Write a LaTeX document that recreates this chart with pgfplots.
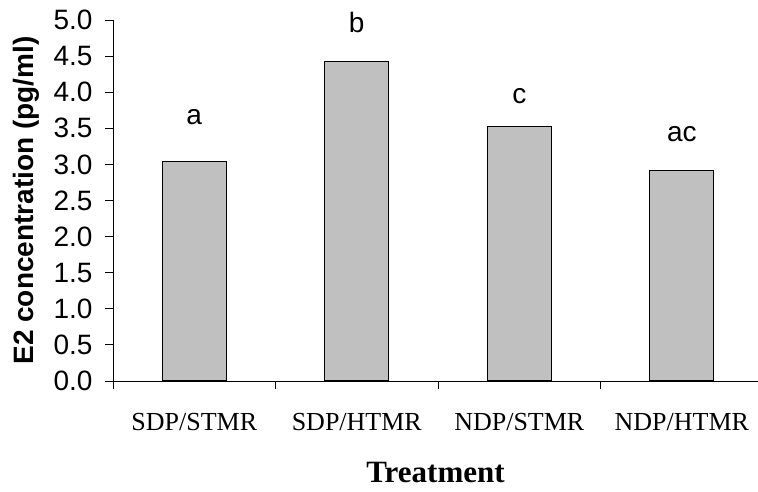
\documentclass[border=0pt]{standalone}
\usepackage{fontspec}
\setmainfont{Liberation Serif}
\newfontfamily\arial{Liberation Sans}
\usepackage{pgfplots}
\pgfplotsset{compat=1.18}
\begin{document}
\begin{tikzpicture}
\useasboundingbox (0,0) rectangle (758bp,492bp);
\begin{axis}[
  at={(113bp,111bp)}, anchor=south west,
  scale only axis,
  width=645bp, height=361bp,
  xmin=-0.5, xmax=3.469,
  ymin=0, ymax=5,
  axis x line=bottom, axis y line=left,
  axis line style={-, line width=0.8bp},
  ytick={0,0.5,...,5},
  /pgf/number format/fixed,
  /pgf/number format/fixed zerofill,
  /pgf/number format/precision=1,
  /pgf/number format/assume math mode=true,
  yticklabel style={font=\arial\fontsize{28bp}{32bp}\selectfont, xshift=-9bp},
  xtick={-0.5,0.5,1.5,2.5},
  xticklabels={SDP/STMR, SDP/HTMR, NDP/STMR, NDP/HTMR},
  xticklabel style={font=\fontsize{26bp}{30bp}\selectfont, xshift=81.3bp, yshift=-21bp},
  tick align=outside,
  major tick length=8bp,
  tick style={black, line width=0.8bp},
  xlabel={\textbf{Treatment}},
  xlabel style={font=\fontsize{31bp}{34bp}\selectfont, at={(axis description cs:0.5,0)}, anchor=base, yshift=-101bp},
  ylabel={\textbf{E2 concentration (pg/ml)}},
  ylabel style={font=\arial\fontsize{28bp}{32bp}\selectfont, at={(axis description cs:-0.135,0.5)}, anchor=center},
  clip=false,
]
\addplot[ybar, bar width=64bp, fill={rgb,255:red,192;green,192;blue,192}, draw=black, line width=1.2bp]
  coordinates {(0,3.04) (1,4.43) (2,3.52) (3,2.91)};
\addplot[draw=none, mark=none, nodes near coords, point meta=explicit symbolic,
  every node near coord/.style={anchor=base, font=\arial\fontsize{28bp}{32bp}\selectfont, inner sep=0pt}]
  table[meta=label] {
x y label
0 3.55 a
1 4.82 b
2 3.85 c
3 3.32 ac
};
\pgfplotsinvokeforeach{0,0.5,1,1.5,2,2.5,3,3.5,4,4.5,5}{
  \draw[black, line width=0.8bp] (axis cs:-0.5,#1) -- ([xshift=-8bp]axis cs:-0.5,#1);
}
\end{axis}
\end{tikzpicture}
\end{document}
